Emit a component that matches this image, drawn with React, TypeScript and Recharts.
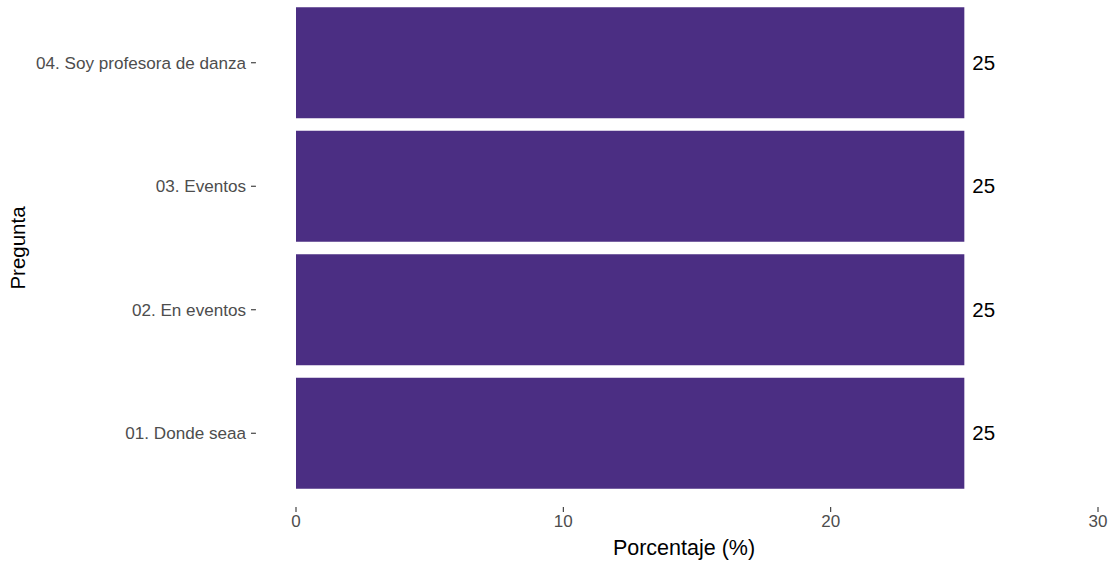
import { BarChart, Bar, XAxis, YAxis, LabelList } from 'recharts';

const PREGUNTAS = [
  '01. Donde seaa',
  '02. En eventos',
  '03. Eventos',
  '04. Soy profesora de danza',
];
const PORCENTAJES = [25, 25, 25, 25];
const X_TICKS = [0, 10, 20, 30];

const data = PREGUNTAS.map((pregunta, i) => ({ pregunta, porcentaje: PORCENTAJES[i] }));

const FONT = '"Liberation Sans", Arial, Helvetica, sans-serif';

// ggplot style: tick mark sits on the (expanded) panel edge, 40px left of the 0 line
function PreguntaTick(props: any) {
  const { x, y, payload } = props;
  return (
    <g>
      <line x1={x - 45} x2={x - 40} y1={y} y2={y} stroke="#333333" strokeWidth={1.1} />
      <text x={x - 50} y={y} dy="0.36em" textAnchor="end" fontSize={17.1} fill="#4d4d4d" fontFamily={FONT}>
        {payload.value}
      </text>
    </g>
  );
}

function PreguntaLabel(props: any) {
  const { viewBox } = props;
  const cx = viewBox.x + 18;
  const cy = viewBox.y + viewBox.height / 2 - 6;
  return (
    <text
      x={cx}
      y={cy}
      transform={`rotate(-90, ${cx}, ${cy})`}
      textAnchor="middle"
      dy="0.36em"
      fontSize={20.5}
      fill="#000"
      fontFamily={FONT}
    >
      Pregunta
    </text>
  );
}

export default function App() {
  return (
    <div style={{ position: 'absolute', left: 0, top: 0, background: '#fff', fontFamily: FONT }}>
      <BarChart
        width={1114}
        height={566}
        data={data}
        layout="vertical"
        margin={{ top: 1, right: 16, bottom: 0, left: 0 }}
        barCategoryGap="5%"
      >
        <XAxis
          type="number"
          dataKey="porcentaje"
          domain={[0, 30]}
          ticks={X_TICKS}
          axisLine={false}
          tickSize={5}
          tickMargin={3}
          tickLine={{ stroke: '#333333', strokeWidth: 1.1 }}
          tick={{ fontSize: 17, fill: '#4d4d4d', fontFamily: FONT }}
          height={59}
          label={{
            value: 'Porcentaje (%)',
            position: 'insideBottom',
            offset: 11,
            dx: -13,
            fontSize: 21.5,
            fill: '#000',
            fontFamily: FONT,
          }}
        />
        <YAxis
          type="category"
          dataKey="pregunta"
          reversed
          width={296}
          interval={0}
          axisLine={false}
          tickLine={false}
          tickSize={0}
          tickMargin={0}
          padding={{ top: 0, bottom: 12 }}
          tick={<PreguntaTick />}
          label={<PreguntaLabel />}
        />
        <Bar dataKey="porcentaje" fill="#4B2E83" isAnimationActive={false}>
          <LabelList
            dataKey="porcentaje"
            position="right"
            offset={8}
            fontSize={20.5}
            fill="#000"
            fontFamily={FONT}
          />
        </Bar>
      </BarChart>
    </div>
  );
}
